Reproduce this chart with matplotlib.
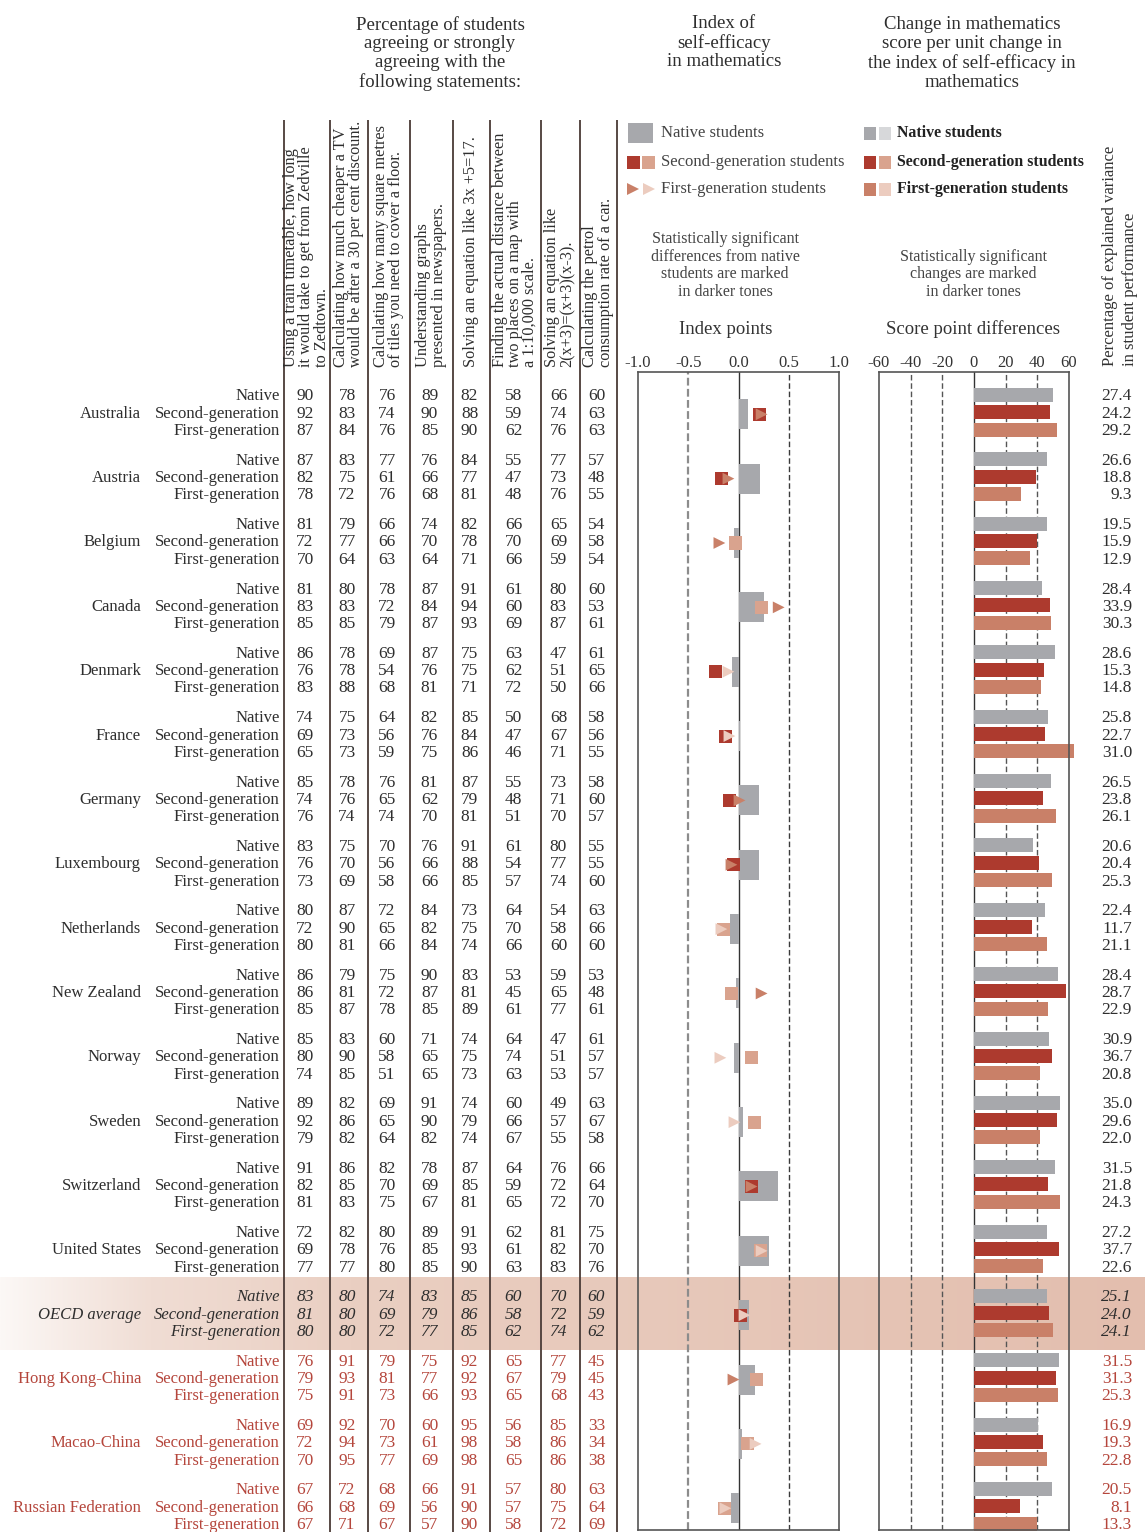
import numpy as np
import matplotlib
matplotlib.use("Agg")
import matplotlib.pyplot as plt
from matplotlib.patches import Rectangle
from matplotlib.colors import to_rgb

plt.rcParams['font.family'] = ['Liberation Serif', 'DejaVu Serif']

# ---------------------------------------------------------------- data
countries = ["Australia", "Austria", "Belgium", "Canada", "Denmark", "France",
             "Germany", "Luxembourg", "Netherlands", "New Zealand", "Norway",
             "Sweden", "Switzerland", "United States", "OECD average",
             "Hong Kong-China", "Macao-China", "Russian Federation"]
partners = ["Hong Kong-China", "Macao-China", "Russian Federation"]
groups = ["Native", "Second-generation", "First-generation"]

statements = [
    "Using a train timetable, how long\nit would take to get from Zedville\nto Zedtown.",
    "Calculating how much cheaper a TV\nwould be after a 30 per cent discount.",
    "Calculating how many square metres\nof tiles you need to cover a floor.",
    "Understanding graphs\npresented in newspapers.",
    "Solving an equation like 3x +5=17.",
    "Finding the actual distance between\ntwo places on a map with\na 1:10,000 scale.",
    "Solving an equation like\n2(x+3)=(x+3)(x-3).",
    "Calculating the petrol\nconsumption rate of a car.",
]

# Percentage agreeing with each statement (8 statements per row)
pct_native = [
    [90, 78, 76, 89, 82, 58, 66, 60], [87, 83, 77, 76, 84, 55, 77, 57],
    [81, 79, 66, 74, 82, 66, 65, 54], [81, 80, 78, 87, 91, 61, 80, 60],
    [86, 78, 69, 87, 75, 63, 47, 61], [74, 75, 64, 82, 85, 50, 68, 58],
    [85, 78, 76, 81, 87, 55, 73, 58], [83, 75, 70, 76, 91, 61, 80, 55],
    [80, 87, 72, 84, 73, 64, 54, 63], [86, 79, 75, 90, 83, 53, 59, 53],
    [85, 83, 60, 71, 74, 64, 47, 61], [89, 82, 69, 91, 74, 60, 49, 63],
    [91, 86, 82, 78, 87, 64, 76, 66], [72, 82, 80, 89, 91, 62, 81, 75],
    [83, 80, 74, 83, 85, 60, 70, 60], [76, 91, 79, 75, 92, 65, 77, 45],
    [69, 92, 70, 60, 95, 56, 85, 33], [67, 72, 68, 66, 91, 57, 80, 63],
]
pct_second = [
    [92, 83, 74, 90, 88, 59, 74, 63], [82, 75, 61, 66, 77, 47, 73, 48],
    [72, 77, 66, 70, 78, 70, 69, 58], [83, 83, 72, 84, 94, 60, 83, 53],
    [76, 78, 54, 76, 75, 62, 51, 65], [69, 73, 56, 76, 84, 47, 67, 56],
    [74, 76, 65, 62, 79, 48, 71, 60], [76, 70, 56, 66, 88, 54, 77, 55],
    [72, 90, 65, 82, 75, 70, 58, 66], [86, 81, 72, 87, 81, 45, 65, 48],
    [80, 90, 58, 65, 75, 74, 51, 57], [92, 86, 65, 90, 79, 66, 57, 67],
    [82, 85, 70, 69, 85, 59, 72, 64], [69, 78, 76, 85, 93, 61, 82, 70],
    [81, 80, 69, 79, 86, 58, 72, 59], [79, 93, 81, 77, 92, 67, 79, 45],
    [72, 94, 73, 61, 98, 58, 86, 34], [66, 68, 69, 56, 90, 57, 75, 64],
]
pct_first = [
    [87, 84, 76, 85, 90, 62, 76, 63], [78, 72, 76, 68, 81, 48, 76, 55],
    [70, 64, 63, 64, 71, 66, 59, 54], [85, 85, 79, 87, 93, 69, 87, 61],
    [83, 88, 68, 81, 71, 72, 50, 66], [65, 73, 59, 75, 86, 46, 71, 55],
    [76, 74, 74, 70, 81, 51, 70, 57], [73, 69, 58, 66, 85, 57, 74, 60],
    [80, 81, 66, 84, 74, 66, 60, 60], [85, 87, 78, 85, 89, 61, 77, 61],
    [74, 85, 51, 65, 73, 63, 53, 57], [79, 82, 64, 82, 74, 67, 55, 58],
    [81, 83, 75, 67, 81, 65, 72, 70], [77, 77, 80, 85, 90, 63, 83, 76],
    [80, 80, 72, 77, 85, 62, 74, 62], [75, 91, 73, 66, 93, 65, 68, 43],
    [70, 95, 77, 69, 98, 65, 86, 38], [67, 71, 67, 57, 90, 58, 72, 69],
]

# Index of self-efficacy in mathematics
idx_native = [0.09, 0.21, -0.04, 0.25, -0.06, 0.015, 0.20, 0.20, -0.08, -0.02,
              -0.04, 0.04, 0.39, 0.30, 0.10, 0.16, 0.03, -0.07]
idx_second = [0.21, -0.17, -0.03, 0.23, -0.23, -0.13, -0.09, -0.05, -0.15, -0.07,
              0.13, 0.16, 0.13, 0.22, 0.02, 0.18, 0.09, -0.14]
idx_first = [0.23, -0.10, -0.19, 0.40, -0.10, -0.09, 0.01, -0.07, -0.17, 0.23,
             -0.18, -0.04, 0.13, 0.23, 0.06, -0.05, 0.17, -0.13]
sig_second = [1, 1, 0, 0, 1, 1, 1, 1, 0, 0, 0, 0, 1, 0, 1, 0, 0, 0]
sig_first = [1, 1, 1, 1, 0, 0, 1, 1, 0, 1, 0, 0, 1, 0, 0, 1, 0, 0]

# Change in mathematics score per unit of the index
slope_native = [50.0, 46.2, 46.2, 43.0, 51.3, 46.8, 48.7, 37.3, 44.9, 53.2,
                47.5, 54.4, 51.3, 46.2, 46.2, 53.8, 40.5, 49.4]
slope_second = [48.1, 39.2, 39.8, 48.1, 44.3, 44.9, 43.6, 41.1, 36.7, 58.3,
                49.4, 52.5, 46.8, 53.8, 47.5, 51.9, 43.6, 29.0]
slope_first = [52.5, 29.7, 35.4, 48.7, 42.4, 63.3, 51.9, 49.4, 46.2, 46.8,
               41.7, 41.7, 54.4, 43.6, 50.0, 53.2, 46.2, 39.8]

# Percentage of explained variance in student performance
var_native = [27.4, 26.6, 19.5, 28.4, 28.6, 25.8, 26.5, 20.6, 22.4, 28.4,
              30.9, 35.0, 31.5, 27.2, 25.1, 31.5, 16.9, 20.5]
var_second = [24.2, 18.8, 15.9, 33.9, 15.3, 22.7, 23.8, 20.4, 11.7, 28.7,
              36.7, 29.6, 21.8, 37.7, 24.0, 31.3, 19.3, 8.1]
var_first = [29.2, 9.3, 12.9, 30.3, 14.8, 31.0, 26.1, 25.3, 21.1, 22.9,
             20.8, 22.0, 24.3, 22.6, 24.1, 25.3, 22.8, 13.3]

idx_ticks = [-1.0, -0.5, 0.0, 0.5, 1.0]
score_ticks = [-60, -40, -20, 0, 20, 40, 60]

# ---------------------------------------------------------------- styles
TXT = "#2e2e2e"
RED_TXT = "#b5463c"
GRAY = "#a7a8ac"
GRAY_L = "#d7d8da"
RED = "#ad3a2e"
RED_L = "#d9a38e"
SALMON = "#c98068"
SALMON_L = "#ecccbf"
LINE = "#4a3a36"

W, H = 1145, 1532
fig = plt.figure(figsize=(W / 100, H / 100), dpi=100)

base = fig.add_axes([0, 0, 1, 1])
base.set_xlim(0, W)
base.set_ylim(H, 0)
base.axis("off")

G0, GSTEP, RSTEP = 395.0, 64.35, 17.3


def row_y(g, r):
    return G0 + g * GSTEP + r * RSTEP


# OECD highlight band (horizontal gradient)
oecd_i = countries.index("OECD average")
band_top = row_y(oecd_i, 0) - 18
band_bot = row_y(oecd_i, 2) + 20
stops_x = [0, 150, 350, W]
stops_c = [to_rgb("#fcf8f6"), to_rgb("#f0ddd4"), to_rgb("#eacfc2"), to_rgb("#e3beae")]
xs = np.linspace(0, W, 600)
grad = np.stack([np.interp(xs, stops_x, [c[k] for c in stops_c]) for k in range(3)], axis=-1)
base.imshow(grad[np.newaxis, :, :], extent=(0, W, band_bot, band_top),
            aspect="auto", zorder=0, interpolation="bilinear")
base.set_xlim(0, W)
base.set_ylim(H, 0)

# ---------------------------------------------------------------- table
col_lines = [284, 330, 368, 410, 453, 490, 541, 580, 617]
col_centers = [(a + b) / 2 - 2 for a, b in zip(col_lines[:-1], col_lines[1:])]
base.vlines(col_lines, 120, H, color=LINE, lw=1.3, zorder=2)

for xc, txt in zip(col_centers, statements):
    base.text(xc + 1.5, 367, txt, rotation=90, ha="center", va="bottom",
              multialignment="left", fontsize=11.7, linespacing=0.92, color=TXT)

tables = [pct_native, pct_second, pct_first]
variances = [var_native, var_second, var_first]
for g, name in enumerate(countries):
    is_partner = name in partners
    is_oecd = name == "OECD average"
    color = RED_TXT if is_partner else TXT
    style = "italic" if is_oecd else "normal"
    base.text(141, row_y(g, 1) + 5.5, name, ha="right", va="baseline",
              fontsize=12, color=color, style=style, zorder=3)
    for r, grp in enumerate(groups):
        y = row_y(g, r) + 5.5
        base.text(280, y, grp, ha="right", va="baseline", fontsize=12,
                  color=color, style=style, zorder=3)
        for c, xc in enumerate(col_centers):
            base.text(xc, y, str(tables[r][g][c]), ha="center", va="baseline",
                      fontsize=12.5, color=color, style=style, zorder=3)
        base.text(1132, y, f"{variances[r][g]:.1f}", ha="right", va="baseline",
                  fontsize=12.5, color=color, style=style, zorder=3)

# ---------------------------------------------------------------- titles
base.text(440, 53.5, "Percentage of students\nagreeing or strongly\nagreeing with the\nfollowing statements:",
          ha="center", va="center", fontsize=13.5, linespacing=1.15, color=TXT)
base.text(724, 42.5, "Index of\nself-efficacy\nin mathematics",
          ha="center", va="center", fontsize=13.5, linespacing=1.15, color=TXT)
base.text(972, 53.5, "Change in mathematics\nscore per unit change in\nthe index of self-efficacy in\nmathematics",
          ha="center", va="center", fontsize=13.5, linespacing=1.15, color=TXT)

base.text(725, 265.5, "Statistically significant\ndifferences from native\nstudents are marked\nin darker tones",
          ha="center", va="center", fontsize=11.5, linespacing=1.12, color="#444444")
base.text(973, 274.5, "Statistically significant\nchanges are marked\nin darker tones",
          ha="center", va="center", fontsize=11.5, linespacing=1.12, color="#444444")
base.text(726, 329, "Index points", ha="center", va="center", fontsize=13.5, color="#333333")
base.text(973, 329, "Score point differences", ha="center", va="center", fontsize=13.5, color="#333333")

base.text(1120, 366, "Percentage of explained variance\nin student performance", rotation=90,
          ha="center", va="bottom", multialignment="left", fontsize=12,
          linespacing=1.3, color="#333333")

# ---------------------------------------------------------------- legends
leg_y = [133, 162, 189]
base.add_patch(Rectangle((628, 123), 25, 20, color=GRAY, lw=0))
base.add_patch(Rectangle((627, 155.5), 13, 13, color=RED, lw=0))
base.add_patch(Rectangle((642, 155.5), 13, 13, color=RED_L, lw=0))
base.plot([632.5], [leg_y[2]], marker=">", ms=8.6, color=SALMON, mew=0, ls="none")
base.plot([648.5], [leg_y[2]], marker=">", ms=8.6, color=SALMON_L, mew=0, ls="none")
for y, lab in zip(leg_y, ["Native students", "Second-generation students", "First-generation students"]):
    base.text(661, y, lab, ha="left", va="center", fontsize=12, color="#444444")

for y, (dark, light) in zip(leg_y, [(GRAY, GRAY_L), (RED, RED_L), (SALMON, SALMON_L)]):
    base.add_patch(Rectangle((864, y - 6.5), 12, 13, color=dark, lw=0))
    base.add_patch(Rectangle((879, y - 6.5), 12, 13, color=light, lw=0))
for y, lab in zip(leg_y, ["Native students", "Second-generation students", "First-generation students"]):
    base.text(897, y, lab, ha="left", va="center", fontsize=11.4,
              fontweight="bold", color="#222222")

# ---------------------------------------------------------------- panels
P_TOP, P_BOT = 372, 1530


def panel(x0, x1):
    ax = fig.add_axes([x0 / W, 1 - P_BOT / H, (x1 - x0) / W, (P_BOT - P_TOP) / H])
    ax.set_ylim(P_BOT, P_TOP)
    ax.patch.set_alpha(0)
    ax.set_yticks([])
    ax.xaxis.tick_top()
    ax.tick_params(axis="x", length=0, pad=0.5, labelsize=12, labelcolor="#333333")
    for s in ax.spines.values():
        s.set_color("#555555")
        s.set_linewidth(1.2)
    return ax


mid_y = np.array([row_y(g, 1) + 2 for g in range(len(countries))])

ax_idx = panel(638, 839)
ax_idx.set_xlim(-1, 1)
ax_idx.set_xticks(idx_ticks)
ax_idx.set_xticklabels([f"{t:.1f}" for t in idx_ticks])
ax_idx.axvline(-0.5, color="#8c8c8c", lw=1.6, ls=(0, (3.5, 1.5)), zorder=1)
ax_idx.axvline(0.5, color="#3a3a3a", lw=1.0, ls=(0, (4, 2)), zorder=1)
ax_idx.axvline(0, color="#333333", lw=1.0, zorder=1)
ax_idx.barh(mid_y, idx_native, height=30, left=0, color=GRAY, lw=0, zorder=2)
sq_colors = [RED if s else RED_L for s in sig_second]
tri_colors = [SALMON if s else SALMON_L for s in sig_first]
ax_idx.scatter(idx_second, mid_y, marker="s", s=88, c=sq_colors, linewidths=0, zorder=3)
ax_idx.scatter(idx_first, mid_y, marker=">", s=72, c=tri_colors, linewidths=0, zorder=4)

ax_bar = panel(879, 1069)
ax_bar.set_xlim(-60, 60)
ax_bar.set_xticks(score_ticks)
ax_bar.set_xticklabels([str(t) for t in score_ticks])
for v in [-40, -20, 20, 40]:
    ax_bar.axvline(v, color="#555555", lw=1.0, ls=(0, (4, 2)), zorder=1)
ax_bar.axvline(0, color="#333333", lw=1.0, zorder=1)
for r, (vals, colr) in enumerate(zip([slope_native, slope_second, slope_first],
                                     [GRAY, RED, SALMON])):
    ys = [row_y(g, r) for g in range(len(countries))]
    ax_bar.barh(ys, vals, height=14, left=0, color=colr, lw=0, zorder=2, clip_on=False)

fig.savefig("out.png", dpi=100)
